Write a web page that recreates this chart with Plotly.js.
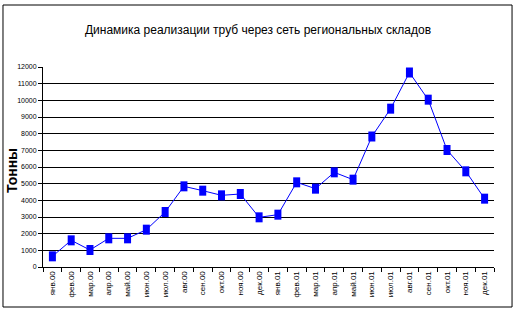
<!DOCTYPE html>
<html><head><meta charset="utf-8">
<script src="https://cdn.plot.ly/plotly-3.0.1.min.js"></script>
<style>html,body{margin:0;padding:0;background:#fff}#chart{width:516px;height:312px}</style>
</head><body><div id="chart"></div>
<script>
var months = ["янв.00","фев.00","мар.00","апр.00","май.00","июн.00","июл.00","авг.00","сен.00","окт.00","ноя.00","дек.00",
              "янв.01","фев.01","мар.01","апр.01","май.01","июн.01","июл.01","авг.01","сен.01","окт.01","ноя.01","дек.01"];
var tons = [640,1600,1020,1720,1720,2240,3300,4840,4580,4300,4380,2980,
            3140,5080,4700,5680,5240,7830,9500,11670,10040,7020,5740,4100];
var chartTitle = "Динамика реализации труб через сеть региональных складов";
var yTitle = "Тонны";

var trace = {
  x: months, y: tons, type: "scatter", mode: "lines",
  line: {color: "#0000ff", width: 1},
  error_y: {type: "constant", value: 300, thickness: 7, width: 0, color: "#0000ff"},
  hoverinfo: "x+y"
};
var layout = {
  width: 516, height: 312,
  margin: {l: 43, r: 22, t: 67, b: 45},
  paper_bgcolor: "#fff", plot_bgcolor: "#fff",
  showlegend: false,
  font: {family: "Liberation Sans, Arial, sans-serif", color: "#000"},
  title: {text: chartTitle, font: {size: 12, color: "#000"}, x: 0.5, xanchor: "center", y: 0.905, yanchor: "middle"},
  xaxis: {
    type: "category", range: [-0.5, 23.5], showgrid: false, zeroline: false,
    showline: true, linecolor: "#000", linewidth: 1,
    ticks: "outside", tickson: "boundaries", ticklen: 4, tickcolor: "#000",
    tickangle: -90, tickfont: {size: 8, color: "#000"}
  },
  yaxis: {
    range: [0, 12000], dtick: 1000, tickformat: "d",
    showgrid: true, gridcolor: "#000", gridwidth: 1, zeroline: false,
    showline: true, linecolor: "#000", linewidth: 1,
    ticks: "outside", ticklen: 4, tickcolor: "#000",
    tickfont: {size: 7, color: "#000"}
  },
  annotations: [{text: yTitle, xref: "paper", yref: "paper", x: -0.0687, y: 0.48,
                 xanchor: "center", yanchor: "middle", textangle: -90, showarrow: false,
                 font: {size: 14, color: "#000", weight: "bold"}}],
  shapes: [{type: "rect", xref: "paper", yref: "paper",
            x0: -0.0887, x1: 1.04, y0: -0.2, y1: 1.31,
            line: {color: "#000", width: 1}, fillcolor: "rgba(0,0,0,0)"}]
};
Plotly.newPlot("chart", [trace], layout, {displayModeBar: false, staticPlot: true});
</script></body></html>
